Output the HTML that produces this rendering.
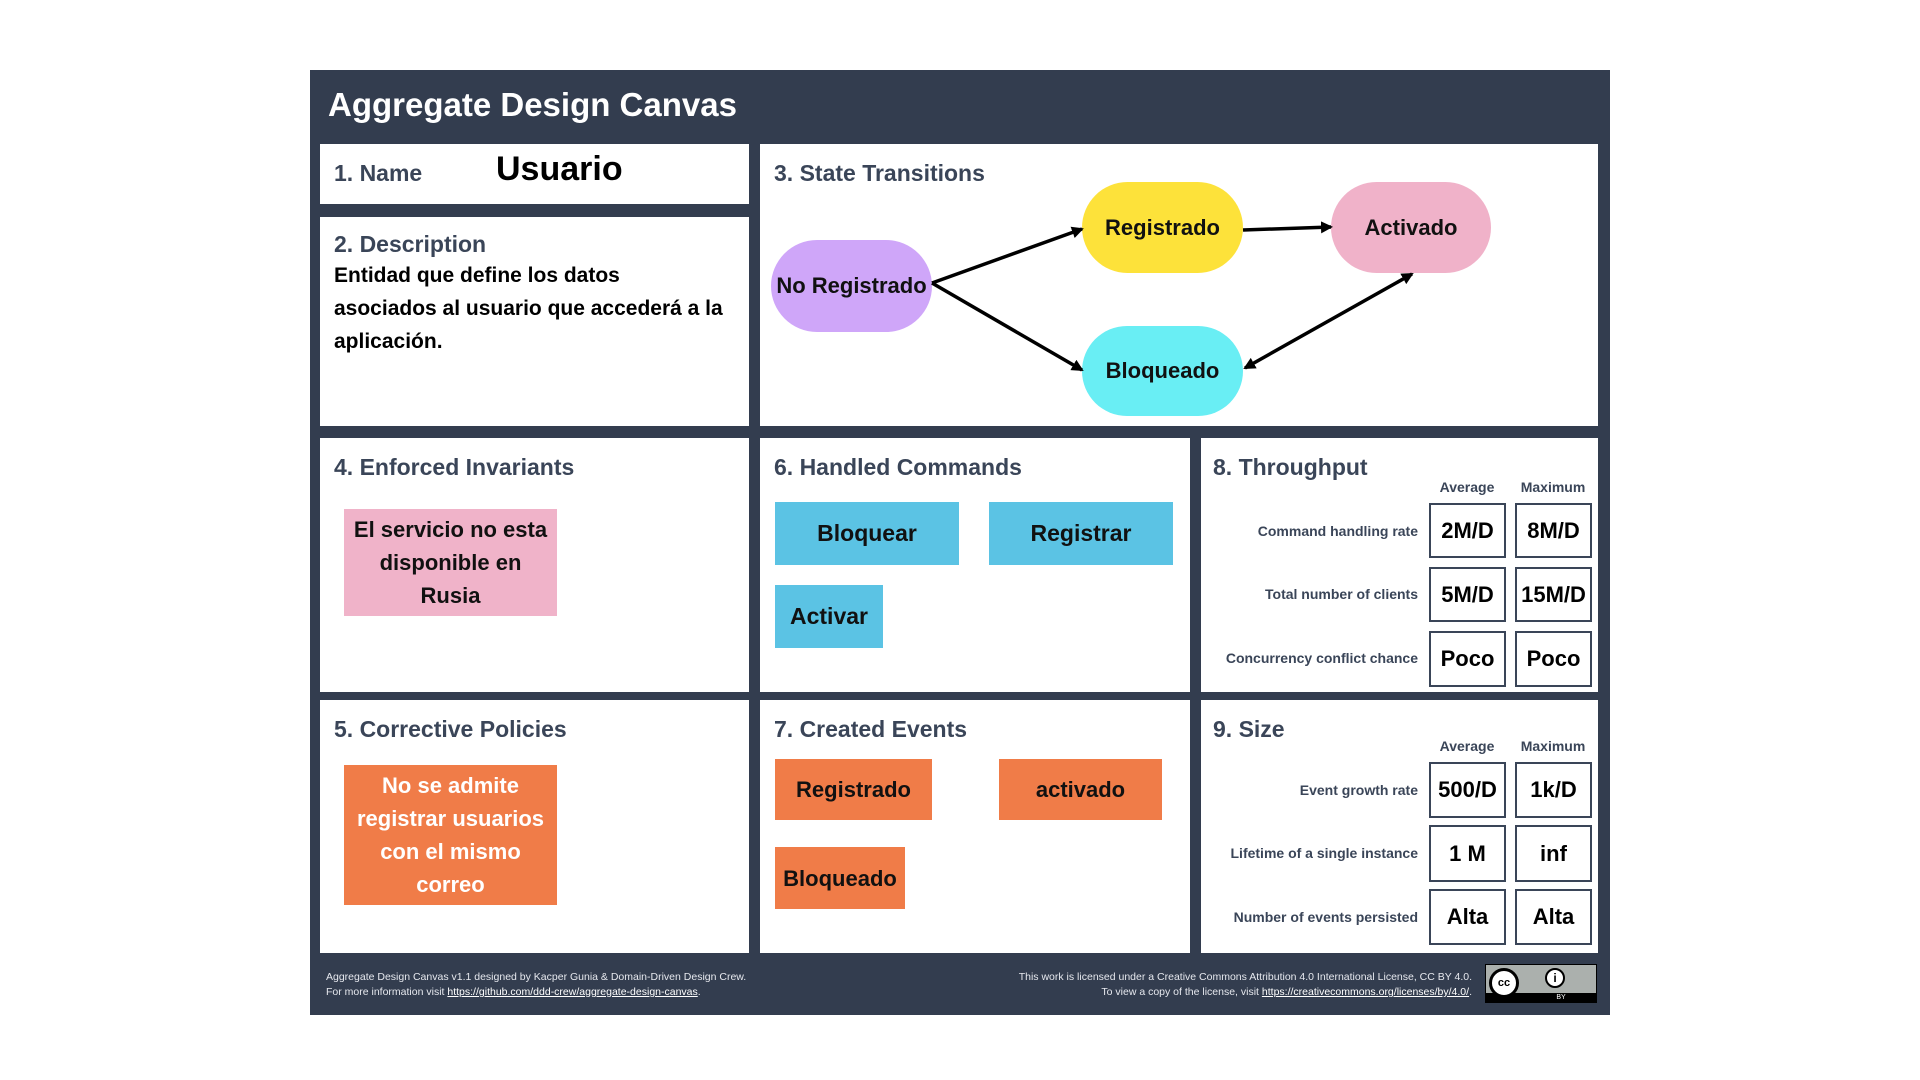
<!DOCTYPE html>
<html><head><meta charset="utf-8"><style>
*{margin:0;padding:0;box-sizing:border-box}
body{width:1920px;height:1080px;background:#fff;position:relative;overflow:hidden;font-family:"Liberation Sans",sans-serif}
.a{position:absolute}
.canvas{left:310px;top:70px;width:1300px;height:945px;background:#333d4f}
.p{position:absolute;background:#fff}
.h{position:absolute;font-weight:bold;color:#3a4558;font-size:23px;white-space:nowrap}
.n{position:absolute;display:flex;align-items:center;justify-content:center;font-weight:bold;font-size:22px;color:#111;border-radius:50px}
.s{position:absolute;display:flex;align-items:center;justify-content:center;text-align:center;font-weight:bold;font-size:22px;line-height:33px;color:#111}
.lbl{position:absolute;font-weight:bold;font-size:14px;color:#3a4558;text-align:right;width:260px;white-space:nowrap}
.b{position:absolute;border:2px solid #3a4558;display:flex;align-items:center;justify-content:center;font-weight:bold;font-size:22px;color:#000;background:#fff}
.col{position:absolute;font-weight:bold;font-size:14px;color:#3a4558;width:90px;text-align:center}
.f{position:absolute;color:#e6e8ee;font-size:10.5px;line-height:15px;white-space:nowrap}
.f u{color:#fff}
</style></head><body>
<div class="a canvas"></div>
<div class="a" style="left:328px;top:86px;color:#fff;font-weight:bold;font-size:33px">Aggregate Design Canvas</div>

<div class="p" style="left:320px;top:144px;width:429px;height:60px"></div>
<div class="p" style="left:320px;top:217px;width:429px;height:209px"></div>
<div class="p" style="left:760px;top:144px;width:838px;height:282px"></div>
<div class="p" style="left:320px;top:438px;width:429px;height:254px"></div>
<div class="p" style="left:760px;top:438px;width:430px;height:254px"></div>
<div class="p" style="left:1201px;top:438px;width:397px;height:254px"></div>
<div class="p" style="left:320px;top:700px;width:429px;height:253px"></div>
<div class="p" style="left:760px;top:700px;width:430px;height:253px"></div>
<div class="p" style="left:1201px;top:700px;width:397px;height:253px"></div>

<div class="h" style="left:334px;top:160px">1. Name</div>
<div class="a" style="left:496px;top:150px;font-size:34px;font-weight:bold;color:#000">Usuario</div>
<div class="h" style="left:334px;top:231px">2. Description</div>
<div class="a" style="left:334px;top:259px;width:415px;font-size:21px;font-weight:bold;line-height:33px;color:#000;white-space:nowrap">Entidad que define los datos<br>asociados al usuario que accederá a la<br>aplicación.</div>
<div class="h" style="left:774px;top:160px">3. State Transitions</div>
<div class="h" style="left:334px;top:454px">4. Enforced Invariants</div>
<div class="h" style="left:774px;top:454px">6. Handled Commands</div>
<div class="h" style="left:1213px;top:454px">8. Throughput</div>
<div class="h" style="left:334px;top:716px">5. Corrective Policies</div>
<div class="h" style="left:774px;top:716px">7. Created Events</div>
<div class="h" style="left:1213px;top:716px">9. Size</div>

<div class="n" style="left:771px;top:240px;width:161px;height:92px;background:#cfa6f9;border-radius:46px">No Registrado</div>
<div class="n" style="left:1082px;top:182px;width:161px;height:91px;background:#fde23a;border-radius:46px">Registrado</div>
<div class="n" style="left:1331px;top:182px;width:160px;height:91px;background:#f0b2c9;border-radius:46px">Activado</div>
<div class="n" style="left:1082px;top:326px;width:161px;height:90px;background:#69eef4;border-radius:45px">Bloqueado</div>
<svg class="a" style="left:0;top:0" width="1920" height="1080">
<defs><marker id="m" markerWidth="12" markerHeight="12" refX="10" refY="6" orient="auto" markerUnits="userSpaceOnUse"><path d="M0,0 L12,6 L0,12 z" fill="#000"/></marker>
<marker id="ms" markerWidth="12" markerHeight="12" refX="2" refY="6" orient="auto" markerUnits="userSpaceOnUse"><path d="M12,0 L0,6 L12,12 z" fill="#000"/></marker></defs>
<g stroke="#000" stroke-width="3.5" fill="none">
<line x1="932" y1="283" x2="1082" y2="229" marker-end="url(#m)"/>
<line x1="932" y1="283" x2="1082" y2="370" marker-end="url(#m)"/>
<line x1="1243" y1="230" x2="1331" y2="227" marker-end="url(#m)"/>
<line x1="1245" y1="368" x2="1412" y2="274" marker-end="url(#m)" marker-start="url(#ms)"/>
</g></svg>

<div class="s" style="left:344px;top:509px;width:213px;height:107px;background:#f0b3c9">El servicio no esta<br>disponible en<br>Rusia</div>
<div class="s" style="left:775px;top:502px;width:184px;height:63px;background:#5bc3e4;font-size:23px">Bloquear</div>
<div class="s" style="left:989px;top:502px;width:184px;height:63px;background:#5bc3e4;font-size:23px">Registrar</div>
<div class="s" style="left:775px;top:585px;width:108px;height:63px;background:#5bc3e4;font-size:23px">Activar</div>
<div class="s" style="left:344px;top:765px;width:213px;height:140px;background:#f07c48;color:#fff">No se admite<br>registrar usuarios<br>con el mismo<br>correo</div>
<div class="s" style="left:775px;top:759px;width:157px;height:61px;background:#f07c48">Registrado</div>
<div class="s" style="left:999px;top:759px;width:163px;height:61px;background:#f07c48">activado</div>
<div class="s" style="left:775px;top:847px;width:130px;height:62px;background:#f07c48">Bloqueado</div>

<div class="col" style="left:1422px;top:479px">Average</div>
<div class="col" style="left:1508px;top:479px">Maximum</div>
<div class="lbl" style="left:1158px;top:523px">Command handling rate</div>
<div class="lbl" style="left:1158px;top:586px">Total number of clients</div>
<div class="lbl" style="left:1158px;top:650px">Concurrency conflict chance</div>
<div class="b" style="left:1429px;top:503px;width:77px;height:55px">2M/D</div>
<div class="b" style="left:1515px;top:503px;width:77px;height:55px">8M/D</div>
<div class="b" style="left:1429px;top:567px;width:77px;height:55px">5M/D</div>
<div class="b" style="left:1515px;top:567px;width:77px;height:55px">15M/D</div>
<div class="b" style="left:1429px;top:631px;width:77px;height:56px">Poco</div>
<div class="b" style="left:1515px;top:631px;width:77px;height:56px">Poco</div>

<div class="col" style="left:1422px;top:738px">Average</div>
<div class="col" style="left:1508px;top:738px">Maximum</div>
<div class="lbl" style="left:1158px;top:782px">Event growth rate</div>
<div class="lbl" style="left:1158px;top:845px">Lifetime of a single instance</div>
<div class="lbl" style="left:1158px;top:909px">Number of events persisted</div>
<div class="b" style="left:1429px;top:762px;width:77px;height:56px">500/D</div>
<div class="b" style="left:1515px;top:762px;width:77px;height:56px">1k/D</div>
<div class="b" style="left:1429px;top:825px;width:77px;height:57px">1 M</div>
<div class="b" style="left:1515px;top:825px;width:77px;height:57px">inf</div>
<div class="b" style="left:1429px;top:889px;width:77px;height:56px">Alta</div>
<div class="b" style="left:1515px;top:889px;width:77px;height:56px">Alta</div>

<div class="f" style="left:326px;top:970px">Aggregate Design Canvas v1.1 designed by Kacper Gunia &amp; Domain-Driven Design Crew.<br>For more information visit <u>https://github.com/ddd-crew/aggregate-design-canvas</u>.</div>
<div class="f" style="right:448px;top:970px;text-align:right">This work is licensed under a Creative Commons Attribution 4.0 International License, CC BY 4.0.<br>To view a copy of the license, visit <u>https://creativecommons.org/licenses/by/4.0/</u>.</div>
<div class="a" style="left:1485px;top:964px;width:112px;height:39px;background:#abb0ad;border:1px solid #000">
<div class="a" style="left:0;bottom:0;width:110px;height:9px;background:#000;color:#fff;font-size:7px;text-align:center;line-height:9px;padding-left:40px">BY</div>
<div class="a" style="left:3px;top:3px;width:30px;height:30px;border-radius:50%;background:#fff;border:3px solid #000;font-size:11px;font-weight:bold;text-align:center;line-height:24px">cc</div>
<div class="a" style="left:59px;top:3px;width:20px;height:20px;border-radius:50%;background:#fff;border:2px solid #000;font-size:12px;font-weight:bold;text-align:center;line-height:16px">i</div>
</div>
</body></html>
